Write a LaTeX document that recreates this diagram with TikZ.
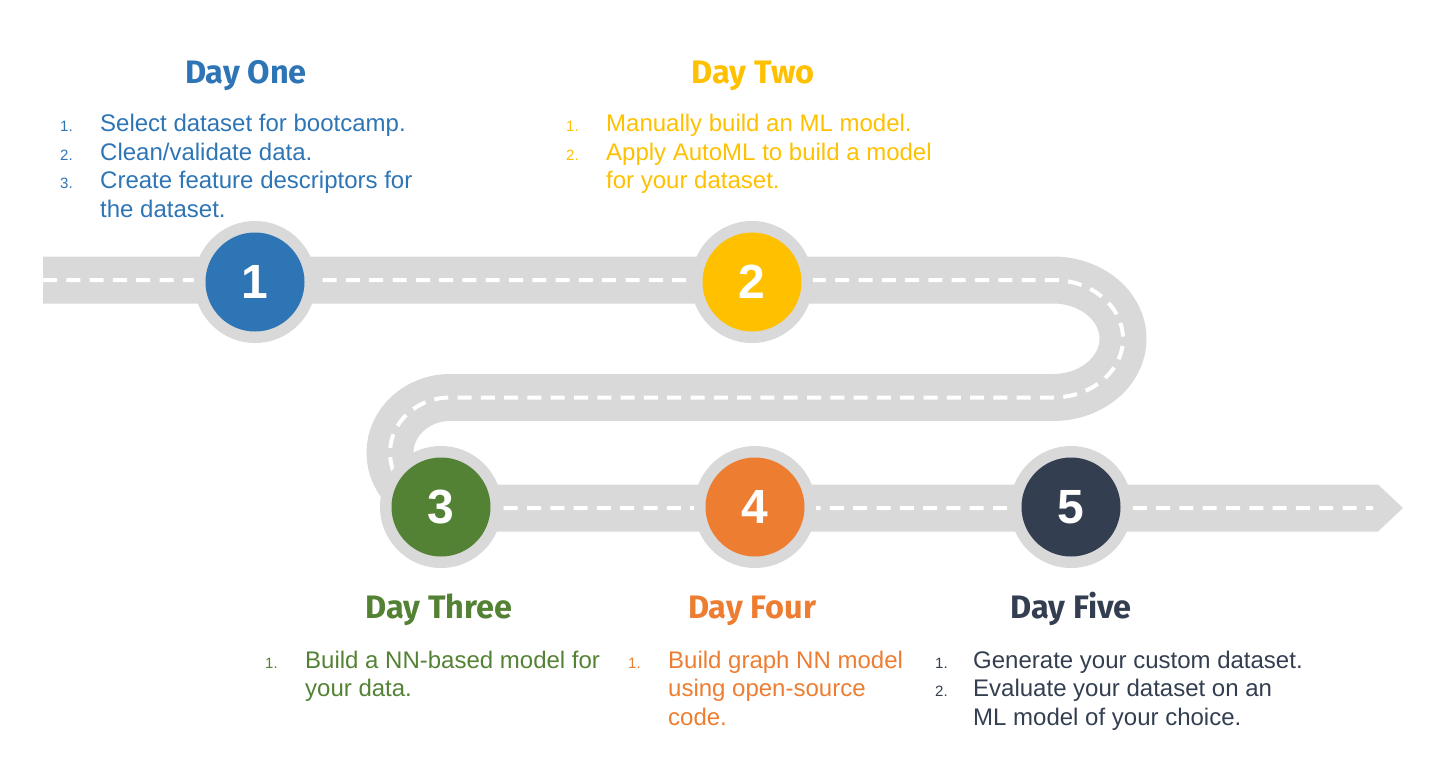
\documentclass[tikz,border=0pt]{standalone}
\usepackage{fontspec}
\setmainfont{Liberation Sans}
\newfontfamily\headfont{Fira Sans}
\newfontfamily\badgefont{Liberation Sans}
\definecolor{roadgray}{HTML}{D9D9D9}
\definecolor{dayblue}{HTML}{2E75B6}
\definecolor{dayyellow}{HTML}{FFC000}
\definecolor{daygreen}{HTML}{548235}
\definecolor{dayorange}{HTML}{ED7D31}
\definecolor{daydark}{HTML}{333F50}
\begin{document}
\begin{tikzpicture}[x=1pt,y=1pt,
  road/.style={line width=47pt, draw=roadgray},
  lane/.style={line width=4pt, draw=white, dash pattern=on 14pt off 9.3pt},
  stone/.style={circle, fill=roadgray, inner sep=0pt, minimum size=122pt},
  badge/.style={circle, inner sep=0pt, minimum size=99pt, text=white,
    font=\badgefont\bfseries\fontsize{48}{48}\selectfont},
  head/.style={anchor=base, inner sep=0pt, font=\headfont\bfseries\fontsize{32.5}{36}\selectfont},
  item/.style={anchor=base west, inner sep=0pt, font=\fontsize{24}{29}\selectfont},
  num/.style={anchor=base west, inner sep=0pt, font=\fontsize{15}{18}\selectfont}]
\useasboundingbox (0,0) rectangle (1430,-774);

% the winding road
\coordinate (roadstart) at (43,-280);
\coordinate (laneend) at (1373,-508);
\coordinate (roadend) at (1378,-508);
\draw[road] (roadstart) -- (1053,-280)
  arc[start angle=90, end angle=-90, x radius=70pt, y radius=58.75pt]
  -- (450,-397.5)
  arc[start angle=90, end angle=270, x radius=60pt, y radius=55.25pt]
  -- (roadend);
\fill[roadgray] ([yshift=23.5pt]roadend) -- ++(25,-23.5) -- ([yshift=-23.5pt]roadend) -- cycle;
\draw[lane] (roadstart) -- (1053,-280)
  arc[start angle=90, end angle=-90, x radius=70pt, y radius=58.75pt]
  -- (450,-397.5)
  arc[start angle=90, end angle=270, x radius=60pt, y radius=55.25pt]
  -- (laneend);

% milestones
\node[stone] (s1) at (255,-282) {};
\node[badge, fill=dayblue] (b1) at (s1) {1};
\node[stone] (s2) at (752,-282) {};
\node[badge, fill=dayyellow] (b2) at (s2) {2};
\node[stone] (s3) at (441,-507) {};
\node[badge, fill=daygreen] (b3) at (s3) {3};
\node[stone] (s4) at (755,-507) {};
\node[badge, fill=dayorange] (b4) at (s4) {4};
\node[stone] (s5) at (1071,-507) {};
\node[badge, fill=daydark] (b5) at (s5) {5};

% Day One
\begin{scope}[text=dayblue]
\node[head] (h1) at (246,-83) {Day One};
\node[num] (n11) at (60,-131) {1.};
\node[item] (t11) at (100,-131) {Select dataset for bootcamp.};
\node[num] (n12) at (60,-160) {2.};
\node[item] (t12) at (100,-160) {Clean/validate data.};
\node[num] (n13) at (60,-188.5) {3.};
\node[item] (t13a) at (100,-188.5) {Create feature descriptors for};
\node[item] (t13b) at (100,-217) {the dataset.};
\end{scope}

% Day Two
\begin{scope}[text=dayyellow]
\node[head] (h2) at (753,-83) {Day Two};
\node[num] (n21) at (566,-131) {1.};
\node[item] (t21) at (606,-131) {Manually build an ML model.};
\node[num] (n22) at (566,-160) {2.};
\node[item] (t22a) at (606,-160) {Apply AutoML to build a model};
\node[item] (t22b) at (606,-188.5) {for your dataset.};
\end{scope}

% Day Three
\begin{scope}[text=daygreen]
\node[head] (h3) at (439,-618) {Day Three};
\node[num] (n31) at (265,-668) {1.};
\node[item] (t31a) at (305,-668) {Build a NN-based model for};
\node[item] (t31b) at (305,-696.5) {your data.};
\end{scope}

% Day Four
\begin{scope}[text=dayorange]
\node[head] (h4) at (752,-618) {Day Four};
\node[num] (n41) at (628,-668) {1.};
\node[item] (t41a) at (668,-668) {Build graph NN model};
\node[item] (t41b) at (668,-696.5) {using open-source};
\node[item] (t41c) at (668,-725) {code.};
\end{scope}

% Day Five
\begin{scope}[text=daydark]
\node[head] (h5) at (1071,-618) {Day Five};
\node[num] (n51) at (935,-668) {1.};
\node[item] (t51) at (973,-668) {Generate your custom dataset.};
\node[num] (n52) at (935,-696.5) {2.};
\node[item] (t52a) at (973,-696.5) {Evaluate your dataset on an};
\node[item] (t52b) at (973,-725) {ML model of your choice.};
\end{scope}
\end{tikzpicture}
\end{document}
